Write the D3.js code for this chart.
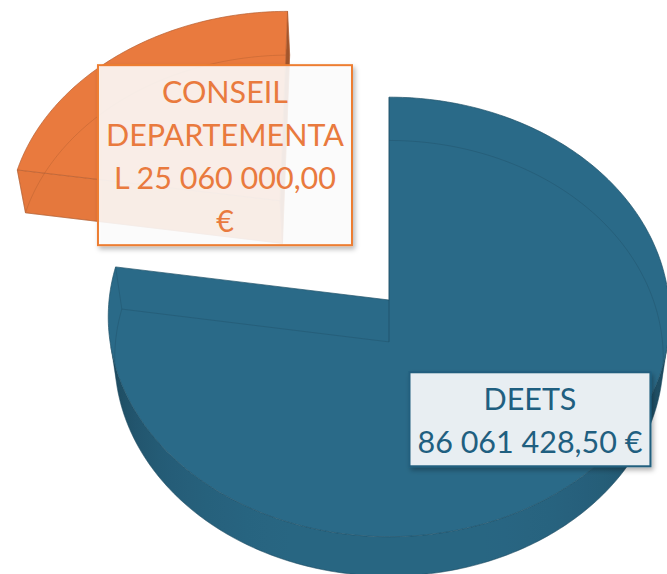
<!DOCTYPE html>
<html lang="fr">
<head>
<meta charset="utf-8">
<title>Répartition des financements</title>
<script src="https://cdn.jsdelivr.net/npm/d3@7/dist/d3.min.js"></script>
<style>
  body { margin: 0; background: #fff; }
  svg { display: block; }
</style>
</head>
<body>
<script>
// data
var categories = ["DEETS", "CONSEIL DEPARTEMENTAL"];
var values = [86061428.50, 25060000.00];
var labelLines = [["DEETS", "86 061 428,50 €"],
                  ["CONSEIL", "DEPARTEMENTA", "L 25 060 000,00", "€"]];
var colors = ["#2a6a88", "#e97a3e"];
var textColors = ["#1f5f80", "#e97a3e"];
var boxFills = ["#e8eef2", "rgba(255,255,255,0.86)"];
var explode = [0, 0.62];
var labelRadius = [0.69, 0.3];
var labelNudge = [[10, 0], [-5, 0]];

var w = 667, h = 574;

// perspective camera
var tilt = 51.3 * Math.PI / 180, dist = 8.12, focal = 2273, thick = 0.245;
var sinA = Math.sin(tilt), cosA = Math.cos(tilt);
var cam = {x: 0, y: dist * sinA, z: -dist * cosA};

var xScale = d3.scaleLinear().domain([0, 1]).range([389, 389 + focal]);
var yScale = d3.scaleLinear().domain([0, 1]).range([300, 300 - focal]);

function project(x, y, z) {
  var Y = z * sinA + y * cosA;
  var Z = dist + z * cosA - y * sinA;
  return [xScale(x / Z), yScale(Y / Z)];
}

var svg = d3.select("body").append("svg")
    .attr("width", w)
    .attr("height", h);

var defs = svg.append("defs");
defs.append("filter").attr("id", "shadow")
    .attr("x", "-10%").attr("y", "-10%").attr("width", "130%").attr("height", "130%")
  .append("feDropShadow")
    .attr("dx", 2).attr("dy", 3).attr("stdDeviation", 2.5)
    .attr("flood-color", "#000").attr("flood-opacity", 0.3);

var arcs = d3.pie().sort(null).value(function(d) { return d; })(values);

var slices = arcs.map(function(a, i) {
  var mid = (a.startAngle + a.endAngle) / 2;
  return {
    i: i,
    start: a.startAngle,
    end: a.endAngle,
    mid: mid,
    ox: explode[i] * Math.sin(mid),
    oz: explode[i] * Math.cos(mid),
    color: colors[i]
  };
});

function pt(s, r, a, y) {
  return project(s.ox + r * Math.sin(a), y, s.oz + r * Math.cos(a));
}

function rim(s, a0, a1, y) {
  var n = Math.max(2, Math.ceil(Math.abs(a1 - a0) / (Math.PI / 180)));
  return d3.range(n + 1).map(function(k) {
    return pt(s, 1, a0 + (a1 - a0) * k / n, y);
  });
}

// how much a face with normal (nx, nz) at (px, pz) looks at the camera
function facing(nx, nz, px, pz) {
  var dx = cam.x - px, dy = cam.y, dz = cam.z - pz;
  return (nx * dx + nz * dz) / Math.sqrt(dx * dx + dy * dy + dz * dz);
}

function shade(c, t, lo, hi) {
  var k = Math.pow(Math.max(0, Math.min(1, t / 0.5)), 0.5);
  return d3.interpolateRgb(d3.color(c).darker(lo), d3.color(c).darker(hi))(k);
}

var line = d3.line();

// draw back slices first
var order = slices.slice().sort(function(a, b) { return b.oz - a.oz; });

var g = svg.append("g");

order.forEach(function(s) {
  var sg = g.append("g");

  // outer curved wall: the part that faces the camera, one path with a gradient
  var steps = 360;
  var vis = d3.range(steps + 1).map(function(k) {
    return s.start + (s.end - s.start) * k / steps;
  }).filter(function(a) {
    return facing(Math.sin(a), Math.cos(a), s.ox + Math.sin(a), s.oz + Math.cos(a)) > 0;
  });
  if (vis.length > 1) {
    var topEdge = vis.map(function(a) { return pt(s, 1, a, 0); });
    var botEdge = vis.map(function(a) { return pt(s, 1, a, -thick); }).reverse();
    var xs = topEdge.map(function(p) { return p[0]; });
    var x0 = d3.min(xs), x1 = d3.max(xs);
    var gid = "wall" + s.i;
    var grad = defs.append("linearGradient").attr("id", gid)
      .attr("gradientUnits", "userSpaceOnUse")
      .attr("x1", x0).attr("x2", x1).attr("y1", 0).attr("y2", 0);
    var gx = d3.scaleLinear().domain([x0, x1]).range([0, 1]);
    vis.filter(function(a, k) { return k % 6 === 0 || k === vis.length - 1; })
      .map(function(a) {
        var t = facing(Math.sin(a), Math.cos(a), s.ox + Math.sin(a), s.oz + Math.cos(a));
        return {o: gx(pt(s, 1, a, 0)[0]), c: shade(s.color, t, 1.6, 0.12)};
      })
      .sort(function(a, b) { return a.o - b.o; })
      .forEach(function(d) {
        grad.append("stop").attr("offset", d.o).attr("stop-color", d.c);
      });
    sg.append("path")
      .attr("d", line(topEdge.concat(botEdge)) + "Z")
      .attr("fill", "url(#" + gid + ")")
      .attr("stroke", d3.color(s.color).darker(1.2))
      .attr("stroke-opacity", 0.5)
      .attr("stroke-width", 0.6);
  }

  // radial walls
  [[s.start, -1], [s.end, 1]].forEach(function(e) {
    var a = e[0];
    var nx = e[1] * Math.cos(a), nz = -e[1] * Math.sin(a);
    var t = facing(nx, nz, s.ox, s.oz);
    if (t <= 0) return;
    var col = shade(s.color, t, 1.6, 0.05);
    sg.append("path")
      .attr("d", line([pt(s, 0, a, 0), pt(s, 1, a, 0), pt(s, 1, a, -thick), pt(s, 0, a, -thick)]) + "Z")
      .attr("fill", col)
      .attr("stroke", d3.color(s.color).darker(0.6))
      .attr("stroke-width", 0.6);
  });

  // top face
  var top = [pt(s, 0, 0, 0)].concat(rim(s, s.start, s.end, 0));
  sg.append("path")
    .attr("d", line(top) + "Z")
    .attr("fill", s.color)
    .attr("stroke", d3.color(s.color).darker(0.7))
    .attr("stroke-width", 0.7)
    .attr("stroke-linejoin", "round");

  // hidden edges seen through the top
  var bottom = [pt(s, 0, 0, -thick)].concat(rim(s, s.start, s.end, -thick));
  var hid = sg.append("g")
    .attr("fill", "none")
    .attr("stroke", d3.color(s.color).darker(0.9))
    .attr("stroke-opacity", 0.45)
    .attr("stroke-width", 0.8);
  hid.append("path").attr("d", line(bottom) + "Z");
  [s.start, s.end].forEach(function(a) {
    hid.append("path").attr("d", line([pt(s, 1, a, 0), pt(s, 1, a, -thick)]));
  });
  hid.append("path").attr("d", line([pt(s, 0, 0, 0), pt(s, 0, 0, -thick)]));
});

// data labels
var fontSize = 30.5, lineH = 43, pad = 8;
slices.forEach(function(s) {
  var c = pt(s, labelRadius[s.i], s.mid, 0);
  c = [c[0] + labelNudge[s.i][0], c[1] + labelNudge[s.i][1]];
  var lg = svg.append("g");
  var box = lg.append("rect");
  var txt = lg.append("g")
    .attr("font-family", "Lato, 'Open Sans', sans-serif")
    .attr("font-size", fontSize)
    .attr("fill", textColors[s.i])
    .attr("text-anchor", "middle");
  var lines = labelLines[s.i];
  var maxW = 0;
  lines.forEach(function(l, k) {
    var t = txt.append("text")
      .attr("x", c[0])
      .attr("y", c[1] + (k - (lines.length - 1) / 2) * lineH + fontSize * 0.4)
      .text(l);
    maxW = Math.max(maxW, t.node().getComputedTextLength());
  });
  var bw = maxW + 2 * pad, bh = lines.length * lineH + 8;
  box.attr("x", c[0] - bw / 2)
    .attr("y", c[1] - bh / 2)
    .attr("width", bw)
    .attr("height", bh)
    .attr("fill", boxFills[s.i])
    .attr("stroke", s.i === 0 ? "#205e7e" : "#ed7d31")
    .attr("stroke-width", 2)
    .attr("filter", "url(#shadow)");
});
</script>
</body>
</html>
